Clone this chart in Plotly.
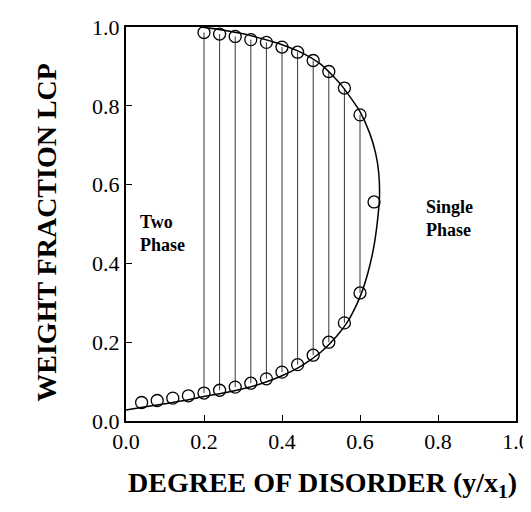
import plotly.graph_objects as go

# Experimental points (open circles)
upper_x = [0.20, 0.24, 0.28, 0.32, 0.36, 0.40, 0.44, 0.48, 0.52, 0.56, 0.60]
upper_y = [0.986, 0.982, 0.976, 0.968, 0.961, 0.949, 0.936, 0.915, 0.887, 0.845, 0.777]
lower_x = [0.04, 0.08, 0.12, 0.16, 0.20, 0.24, 0.28, 0.32, 0.36, 0.40, 0.44, 0.48, 0.52, 0.56, 0.60]
lower_y = [0.047, 0.052, 0.058, 0.064, 0.071, 0.078, 0.086, 0.096, 0.107, 0.124, 0.143, 0.167, 0.200, 0.249, 0.325]
crit_x = [0.636]
crit_y = [0.556]

# Binodal curve
curve_x = [0.0, 0.05, 0.10, 0.15, 0.20, 0.25, 0.30, 0.35, 0.40, 0.45, 0.50, 0.54, 0.57, 0.60,
           0.62, 0.635, 0.645, 0.650, 0.648, 0.640, 0.625, 0.600, 0.580, 0.550,
           0.50, 0.45, 0.40, 0.35, 0.30, 0.25, 0.20, 0.19]
curve_y = [0.028, 0.036, 0.044, 0.052, 0.062, 0.071, 0.082, 0.096, 0.115, 0.140, 0.175, 0.215,
           0.255, 0.315, 0.375, 0.440, 0.510, 0.570, 0.630, 0.680, 0.730, 0.785, 0.815, 0.855,
           0.905, 0.935, 0.955, 0.970, 0.983, 0.992, 0.999, 1.000]

# Tie lines: connect lower and upper points at same x
tie_x = [0.20, 0.24, 0.28, 0.32, 0.36, 0.40, 0.44, 0.48, 0.52, 0.56, 0.60]
tie_lo = [0.071, 0.078, 0.086, 0.096, 0.107, 0.124, 0.143, 0.167, 0.200, 0.249, 0.325]
tie_hi = [0.986, 0.982, 0.976, 0.968, 0.961, 0.949, 0.936, 0.915, 0.887, 0.845, 0.777]

tick_vals = [0.0, 0.2, 0.4, 0.6, 0.8, 1.0]
tick_text = ["0.0", "0.2", "0.4", "0.6", "0.8", "1.0"]

SERIF = "Liberation Serif"

fig = go.Figure()

tx, ty = [], []
for x, lo, hi in zip(tie_x, tie_lo, tie_hi):
    tx += [x, x, None]
    ty += [lo, hi, None]
fig.add_trace(go.Scatter(x=tx, y=ty, mode="lines",
                         line=dict(color="black", width=0.8), hoverinfo="skip"))

fig.add_trace(go.Scatter(x=curve_x, y=curve_y, mode="lines",
                         line=dict(color="black", width=1.5, shape="spline", smoothing=0.6)))

marker = dict(symbol="circle-open", size=12, color="black", line=dict(width=1.3, color="black"))
fig.add_trace(go.Scatter(x=upper_x, y=upper_y, mode="markers", marker=marker))
fig.add_trace(go.Scatter(x=lower_x, y=lower_y, mode="markers", marker=marker))
fig.add_trace(go.Scatter(x=crit_x, y=crit_y, mode="markers", marker=marker))

fig.add_annotation(x=0.03, y=0.475, text="<b>Two<br>Phase</b>", showarrow=False,
                   xanchor="left", align="left",
                   font=dict(family=SERIF, size=18, color="black"))
fig.add_annotation(x=0.765, y=0.515, text="<b>Single<br>Phase</b>", showarrow=False,
                   xanchor="left", align="left",
                   font=dict(family=SERIF, size=18, color="black"))

# Axis titles as annotations for exact placement
fig.add_annotation(xref="paper", yref="paper", x=0.503, y=-0.162,
                   text="<b>DEGREE OF DISORDER (y/x<sub>1</sub>)</b>", showarrow=False,
                   xanchor="center", yanchor="middle",
                   font=dict(family=SERIF, size=28, color="black"))
fig.add_annotation(xref="paper", yref="paper", x=-0.203, y=0.48,
                   text="<b>WEIGHT FRACTION LCP</b>", showarrow=False, textangle=-90,
                   xanchor="center", yanchor="middle",
                   font=dict(family=SERIF, size=28, color="black"))

axis_common = dict(range=[0, 1], tickvals=tick_vals, ticktext=tick_text,
                   ticks="inside", ticklen=6, tickwidth=1, tickcolor="black",
                   showline=True, linecolor="black", linewidth=2, mirror=True,
                   showgrid=False, zeroline=False, automargin=False,
                   tickfont=dict(family=SERIF, size=22, color="black"))

fig.update_layout(
    width=531, height=512,
    margin=dict(l=118, r=23, t=19, b=99),
    paper_bgcolor="white", plot_bgcolor="white",
    showlegend=False,
    xaxis=dict(**axis_common),
    yaxis=dict(**axis_common),
)

fig.write_html("out.html")
